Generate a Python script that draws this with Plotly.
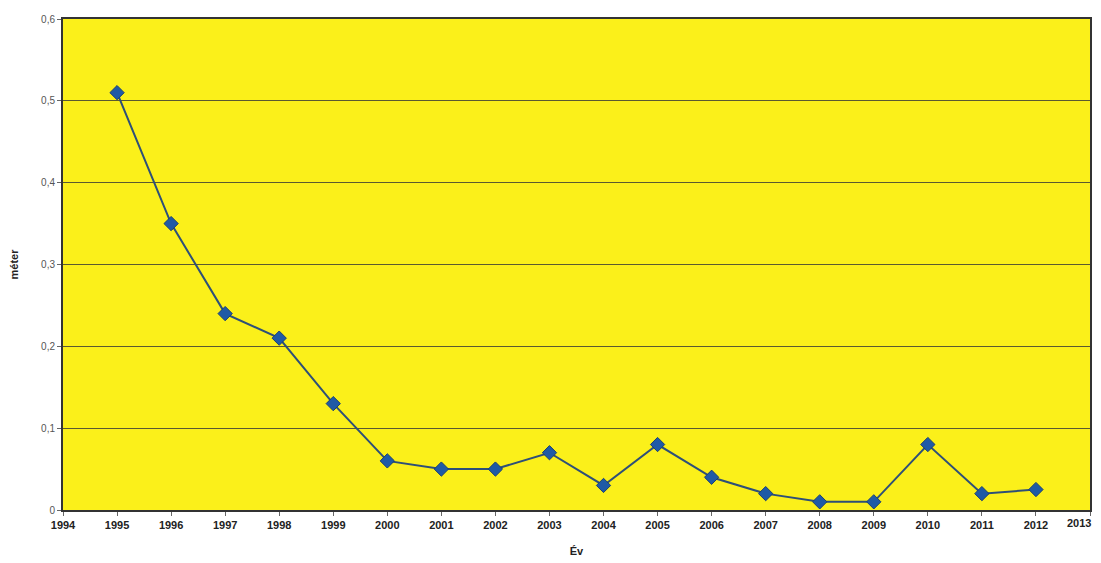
import plotly.graph_objects as go

years = [1995, 1996, 1997, 1998, 1999, 2000, 2001, 2002, 2003, 2004,
         2005, 2006, 2007, 2008, 2009, 2010, 2011, 2012]
values = [0.51, 0.35, 0.24, 0.21, 0.13, 0.06, 0.05, 0.05, 0.07, 0.03,
          0.08, 0.04, 0.02, 0.01, 0.01, 0.08, 0.02, 0.025]
x_ticks = list(range(1994, 2014))
y_ticks = [0, 0.1, 0.2, 0.3, 0.4, 0.5, 0.6]
y_labels = ["0", "0,1", "0,2", "0,3", "0,4", "0,5", "0,6"]

tick_font = dict(size=11, color="#222222", family="Liberation Sans Narrow, Liberation Sans, Arial")

fig = go.Figure()
fig.add_trace(go.Scatter(
    x=years, y=values, mode="lines+markers",
    line=dict(color="#2e4f78", width=2),
    marker=dict(symbol="diamond", size=11, color="#1f5aa6",
                line=dict(color="#1a3f73", width=1)),
    showlegend=False,
))

fig.update_layout(
    width=1093, height=555,
    margin=dict(l=55, r=11, t=11, b=53),
    paper_bgcolor="white",
    plot_bgcolor="#fbf01a",
    separators=", ",
    font=dict(family="Liberation Sans, Arial, sans-serif", color="#333333"),
)
# last tick label drawn right-anchored so it stays inside the page
fig.add_annotation(
    x=x_ticks[-1], xref="x", y=0, yref="paper",
    text="<b>%d</b>" % x_ticks[-1], showarrow=False,
    xanchor="right", yanchor="top", xshift=3, yshift=-5,
    font=tick_font,
)
fig.update_xaxes(
    range=[1994, 2013], tickmode="array", tickvals=x_ticks,
    ticktext=["<b>%d</b>" % t for t in x_ticks[:-1]] + [""],
    tickfont=tick_font,
    ticklabeloverflow="allow",
    showgrid=False, zeroline=False, automargin=False,
    showline=True, linecolor="#333333", linewidth=2, mirror=True,
    ticks="outside", ticklen=4, tickcolor="#666666",
    title=dict(text="<b>Év</b>", font=dict(size=11, color="#222222"), standoff=17),
)
fig.update_yaxes(
    range=[0, 0.6], tickmode="array", tickvals=y_ticks,
    ticktext=y_labels,
    tickfont=dict(size=10, color="#555555"),
    showgrid=True, gridcolor="#5a5a30", gridwidth=1,
    zeroline=False, automargin=False,
    showline=True, linecolor="#333333", linewidth=2, mirror=True,
    ticks="outside", ticklen=4, tickcolor="#666666",
    title=dict(text="<b>méter</b>", font=dict(size=11, color="#222222"), standoff=20),
)

fig.write_html("out.html")
